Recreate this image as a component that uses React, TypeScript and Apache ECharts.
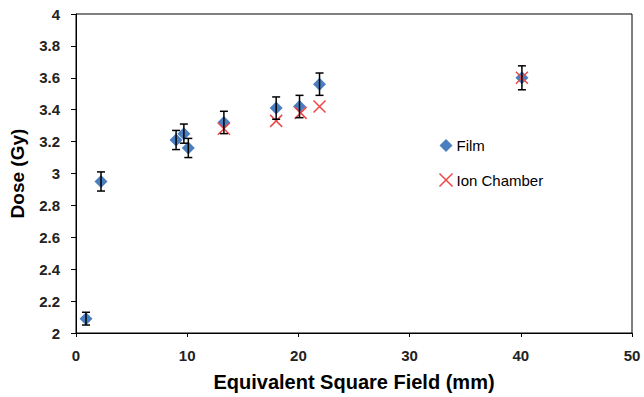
import React, { useEffect, useRef } from "react";
import * as echarts from "echarts";

const filmX = [0.9, 2.25, 9.0, 9.7, 10.1, 13.3, 18.0, 20.1, 21.9, 40.1];
const filmY = [2.09, 2.95, 3.21, 3.25, 3.16, 3.32, 3.41, 3.42, 3.56, 3.6];
const filmErr = [0.04, 0.06, 0.06, 0.06, 0.06, 0.07, 0.07, 0.07, 0.07, 0.075];
const ionX = [13.3, 18.0, 20.2, 21.9, 40.1];
const ionY = [3.28, 3.33, 3.38, 3.42, 3.6];

const xTicks = { min: 0, max: 50, interval: 10 };
const yTicks = { min: 2, max: 4, interval: 0.2 };

const X_PATH = "path://M0,0L10,10M10,0L0,10";

export default function App() {
  const ref = useRef<HTMLDivElement>(null);
  useEffect(() => {
    if (!ref.current) return;
    const chart = echarts.init(ref.current, null, { renderer: "svg" });
    const font = "'Liberation Sans', Arial, sans-serif";
    const errData = filmX.map((x, i) => [x, filmY[i] - filmErr[i], filmY[i] + filmErr[i]]);
    chart.setOption({
      animation: false,
      backgroundColor: "#fff",
      grid: {
        left: 76,
        right: 12,
        top: 14,
        bottom: 64,
        show: true,
        borderColor: "#000",
        borderWidth: 1,
      },
      xAxis: {
        type: "value",
        min: xTicks.min,
        max: xTicks.max,
        interval: xTicks.interval,
        name: "Equivalent Square Field (mm)",
        nameLocation: "middle",
        nameGap: 39,
        nameTextStyle: { fontFamily: font, fontSize: 20, fontWeight: "bold", color: "#000" },
        axisLine: { lineStyle: { color: "#000" } },
        axisTick: { inside: false, length: 4, lineStyle: { color: "#000" } },
        axisLabel: { fontFamily: font, fontSize: 15, fontWeight: "bold", color: "#222", margin: 15 },
        splitLine: { show: false },
      },
      yAxis: {
        type: "value",
        min: yTicks.min,
        max: yTicks.max,
        interval: yTicks.interval,
        name: "Dose (Gy)",
        nameLocation: "middle",
        nameGap: 49,
        nameRotate: 90,
        nameTextStyle: { fontFamily: font, fontSize: 19, fontWeight: "bold", color: "#000" },
        axisLine: { show: true, lineStyle: { color: "#000" } },
        axisTick: { show: true, length: 5, lineStyle: { color: "#000" } },
        axisLabel: {
          fontFamily: font,
          fontSize: 15,
          fontWeight: "bold",
          color: "#222",
          margin: 16,
          formatter: (v: number) => String(Math.round(v * 10) / 10),
        },
        splitLine: { show: false },
      },
      legend: {
        orient: "vertical",
        left: 437,
        top: 138,
        padding: 0,
        itemGap: 18,
        itemWidth: 13,
        itemHeight: 13,
        textStyle: { fontFamily: font, fontSize: 15, color: "#000", padding: [0, 0, 0, -1] },
        data: [
          { name: "Film", icon: "diamond" },
          { name: "Ion Chamber", icon: X_PATH, itemStyle: { color: "none", borderColor: "#f04848", borderWidth: 1.5 } },
        ],
      },
      series: [
        {
          name: "Film",
          type: "scatter",
          symbol: "diamond",
          symbolSize: 13,
          itemStyle: { color: "#4a7ebf", opacity: 1 },
          data: filmX.map((x, i) => [x, filmY[i]]),
          z: 2,
        },
        {
          name: "Ion Chamber",
          type: "scatter",
          symbol: X_PATH,
          symbolSize: 12,
          itemStyle: { color: "none", borderColor: "#f04848", borderWidth: 1.5, opacity: 1 },
          data: ionX.map((x, i) => [x, ionY[i]]),
          z: 3,
        },
        {
          name: "err",
          type: "custom",
          z: 4,
          silent: true,
          data: errData,
          renderItem: (params: any, api: any) => {
            const x = api.value(0);
            const lo = api.coord([x, api.value(1)]);
            const hi = api.coord([x, api.value(2)]);
            const w = 4;
            const style = { stroke: "#000", lineWidth: 1.5 };
            return {
              type: "group",
              children: [
                { type: "line", shape: { x1: lo[0], y1: lo[1], x2: hi[0], y2: hi[1] }, style },
                { type: "line", shape: { x1: lo[0] - w, y1: lo[1], x2: lo[0] + w, y2: lo[1] }, style },
                { type: "line", shape: { x1: hi[0] - w, y1: hi[1], x2: hi[0] + w, y2: hi[1] }, style },
              ],
            };
          },
        },
      ],
    });
    return () => chart.dispose();
  }, []);
  return <div ref={ref} style={{ width: 644, height: 397, position: "absolute", left: 0, top: 0 }} />;
}
